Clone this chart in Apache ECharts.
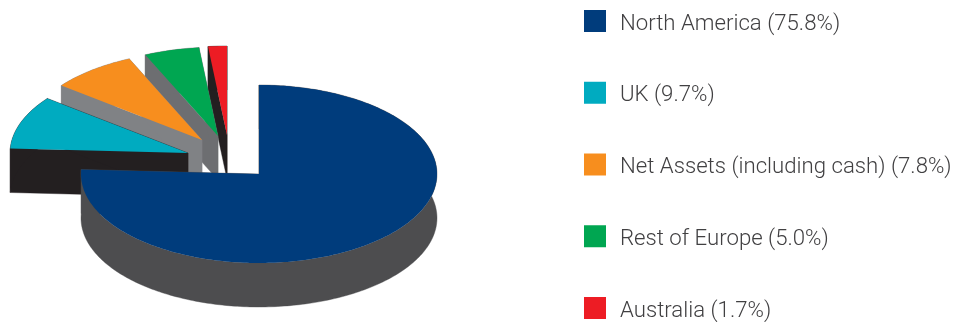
<!DOCTYPE html>
<html>
<head>
<meta charset="utf-8">
<style>html,body{margin:0;padding:0;background:#fff}#chart{width:956px;height:322px}</style>
<script src="https://cdn.jsdelivr.net/npm/echarts@6/dist/echarts.min.js"></script>
</head>
<body>
<div id="chart"></div>
<script>
// Regional allocation, in percent
const regions = ['North America', 'UK', 'Net Assets (including cash)', 'Rest of Europe', 'Australia'];
const shares = [75.8, 9.7, 7.8, 5.0, 1.7];

// Face colours for each region
const topColors = ['#003c7c', '#00abc0', '#f78e1e', '#00a651', '#ed1c24'];
const sideColors = ['#4d4d4f', '#231f20', '#808285', '#6d6e71', '#231f20'];

// Tilted disc geometry
const centre = [259, 174];
const radiusX = 178;
const radiusY = 89;
const depth = 44;

// How far each slice is pulled away from the disc
const pullX = [0, -71, -57, -41, -32];
const pullY = [0, -21, -34, -38, -39];

// Paint order: the pulled slices run back to front, the disc goes last
const paintOrder = [10, 9, 8, 7, 6];

const total = shares.reduce((a, b) => a + b, 0);

function rimPoint(deg, ox, oy) {
  const r = deg * Math.PI / 180;
  return [ox + radiusX * Math.sin(r), oy - radiusY * Math.cos(r)];
}

function arcPoints(from, to, ox, oy) {
  const pts = [];
  const steps = Math.max(2, Math.ceil(Math.abs(to - from)));
  for (let i = 0; i <= steps; i++) pts.push(rimPoint(from + (to - from) * i / steps, ox, oy));
  return pts;
}

function drop(pts) {
  return pts.map(p => [p[0], p[1] + depth]);
}

function wall(pts, color) {
  return {
    type: 'polygon',
    shape: { points: pts.concat(drop(pts).reverse()) },
    style: { fill: color, stroke: color, lineWidth: 0.4 }
  };
}

// One slice: walls first, then the top face over them
function renderSlice(index) {
  return function (params, api) {
    const before = shares.slice(0, index).reduce((a, b) => a + b, 0);
    const start = before / total * 360;
    const end = start + api.value(0) / total * 360;
    const ox = centre[0] + pullX[index];
    const oy = centre[1] + pullY[index];
    const apex = [ox, oy];
    const arc = arcPoints(start, end, ox, oy);
    const side = sideColors[index];
    return {
      type: 'group',
      children: [
        wall([apex, arc[0]], side),
        wall([apex, arc[arc.length - 1]], side),
        wall(arc, side),
        {
          type: 'polygon',
          shape: { points: [apex].concat(arc) },
          style: { fill: api.visual('color') }
        }
      ]
    };
  };
}

const labels = regions.map((r, i) => `${r} (${shares[i].toFixed(1)}%)`);

const option = {
  animation: false,
  backgroundColor: '#ffffff',
  legend: {
    orient: 'vertical',
    left: 584,
    top: 7,
    height: 340,
    padding: 0,
    itemWidth: 22,
    itemHeight: 22,
    itemGap: 43.75,
    icon: 'rect',
    selectedMode: false,
    data: labels,
    formatter: name => `{t|${name}}`,
    textStyle: {
      rich: {
        t: {
          fontFamily: 'Roboto',
          fontWeight: 300,
          fontSize: 22.2,
          lineHeight: 16,
          color: '#414042',
          padding: [6, 0, 0, 9]
        }
      }
    }
  },
  series: regions.map((r, i) => ({
    type: 'custom',
    name: labels[i],
    coordinateSystem: 'none',
    silent: true,
    z: paintOrder[i],
    itemStyle: { color: topColors[i] },
    encode: { value: 0 },
    data: [[shares[i]]],
    renderItem: renderSlice(i)
  }))
};

const chart = echarts.init(document.getElementById('chart'), null, { renderer: 'canvas' });
chart.setOption(option);
</script>
</body>
</html>
